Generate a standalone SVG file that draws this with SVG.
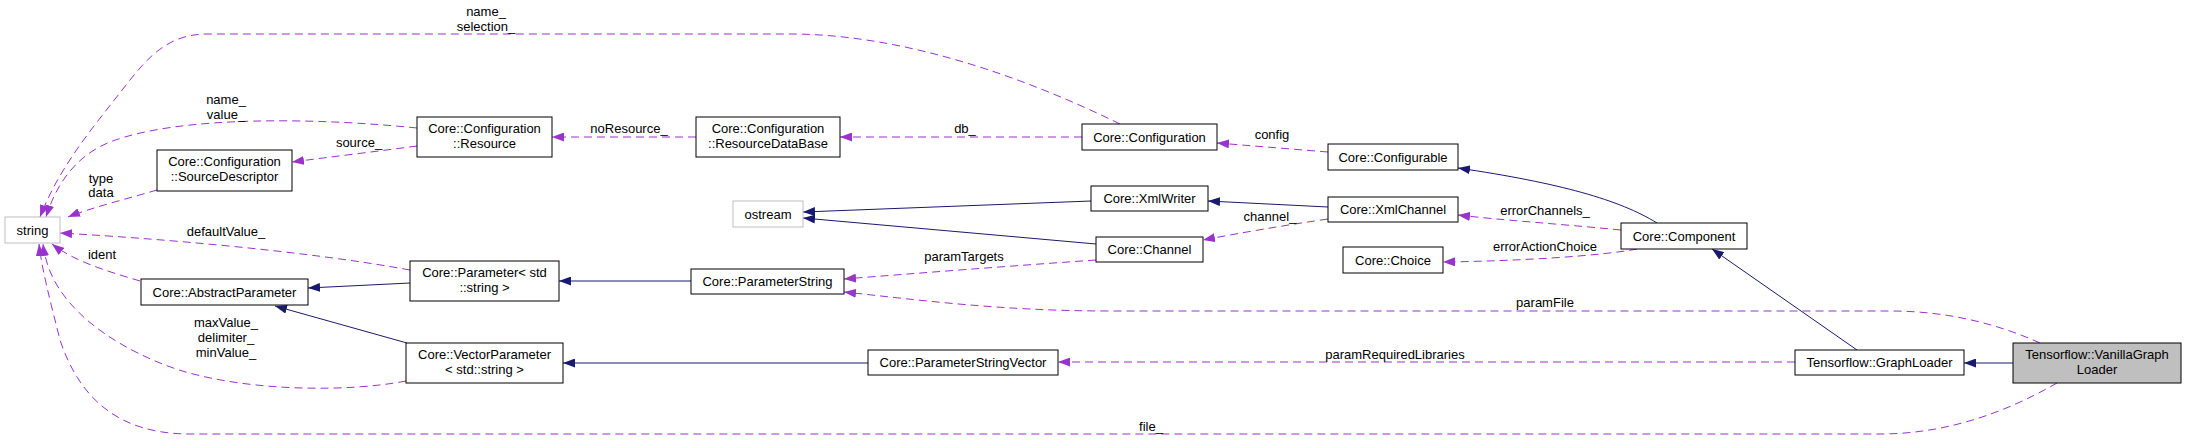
<svg xmlns="http://www.w3.org/2000/svg" width="2187" height="440" viewBox="0 0 2187 440">
<style>
text{font-family:"Liberation Sans",Arial,sans-serif;font-size:13px;fill:#000}
.n rect{fill:#fff;stroke:#000;stroke-width:1}
.ext rect{fill:#fff;stroke:#bfbfbf;stroke-width:1}
.sel rect{fill:#bfbfbf;stroke:#000;stroke-width:1}
.n text,.ext text,.sel text,.lbl{text-anchor:middle}
.u{fill:none;stroke:#9a32cd;stroke-width:1;stroke-dasharray:8,5;marker-end:url(#ap)}
.i{fill:none;stroke:#191970;stroke-width:1;marker-end:url(#an)}
</style>
<defs>
<marker id="ap" viewBox="0 0 12 9" refX="12" refY="4.5" markerWidth="12" markerHeight="9" markerUnits="userSpaceOnUse" orient="auto"><path d="M0,0 L12,4.5 L0,9 z" fill="#9a32cd"/></marker>
<marker id="an" viewBox="0 0 12 9" refX="12" refY="4.5" markerWidth="12" markerHeight="9" markerUnits="userSpaceOnUse" orient="auto"><path d="M0,0 L12,4.5 L0,9 z" fill="#191970"/></marker>
</defs>
<rect width="2187" height="440" fill="#fff"/>
<g id="connectors">
<path class="u" d="M1120,124 C1020,75 900,34 790,34 L207,34 C170,34 150,55 130,80 C95,125 60,165 40,217"/>
<path class="u" d="M417,128 C320,118 180,115 110,142 C75,156 56,185 46,217"/>
<path class="u" d="M417,146 C380,151 330,157 292,162"/>
<path class="u" d="M157,190 C130,198 90,208 68,217"/>
<path class="u" d="M696,137 L552,137"/>
<path class="u" d="M1082,137 L840,137"/>
<path class="u" d="M1328,152 L1217,143"/>
<path class="i" d="M1657,223 C1620,200 1560,183 1458,168"/>
<path class="i" d="M1328,207 L1208,201"/>
<path class="i" d="M1091,201 L803,212"/>
<path class="i" d="M1096,244 L803,218"/>
<path class="u" d="M1328,219 C1280,226 1240,233 1203,240"/>
<path class="u" d="M1096,260 C1010,266 920,273 844,279"/>
<path class="u" d="M2040,343 C2000,325 1950,311 1890,311 L1110,311 C1000,311 920,300 844,292"/>
<path class="u" d="M1795,362 L1058,362"/>
<path class="u" d="M2057,383 C2010,410 1950,434 1880,434 L190,434 C120,434 80,400 60,340 C50,300 42,270 39,244"/>
<path class="u" d="M406,381 C350,392 250,392 179,370 C120,350 80,320 60,290 C50,275 45,260 43,244"/>
<path class="u" d="M140,281 C110,272 75,262 52,244"/>
<path class="u" d="M410,270 C300,250 150,238 60,233"/>
<path class="i" d="M410,283 L308,288"/>
<path class="i" d="M407,343 L275,306"/>
<path class="i" d="M691,281 L559,281"/>
<path class="i" d="M868,363 L563,363"/>
<path class="i" d="M1857,350 L1712,249"/>
<path class="i" d="M2013,363 L1964,363"/>
<path class="u" d="M1621,230 C1560,224 1500,220 1458,215"/>
<path class="u" d="M1637,249 C1600,256 1520,261 1443,262"/>
<text class="lbl" x="486" y="16">name_</text>
<text class="lbl" x="486" y="31">selection_</text>
<text class="lbl" x="226" y="104">name_</text>
<text class="lbl" x="226" y="119">value_</text>
<text class="lbl" x="359" y="147">source_</text>
<text class="lbl" x="101" y="183">type</text>
<text class="lbl" x="101" y="197">data</text>
<text class="lbl" x="629" y="133">noResource_</text>
<text class="lbl" x="965" y="133">db_</text>
<text class="lbl" x="1272" y="139">config</text>
<text class="lbl" x="1270" y="221">channel_</text>
<text class="lbl" x="964" y="261">paramTargets</text>
<text class="lbl" x="1545" y="215">errorChannels_</text>
<text class="lbl" x="1545" y="251">errorActionChoice</text>
<text class="lbl" x="1545" y="307">paramFile</text>
<text class="lbl" x="1395" y="359">paramRequiredLibraries</text>
<text class="lbl" x="1151" y="431">file_</text>
<text class="lbl" x="226" y="236">defaultValue_</text>
<text class="lbl" x="102" y="259">ident</text>
<text class="lbl" x="226" y="327">maxValue_</text>
<text class="lbl" x="226" y="342">delimiter_</text>
<text class="lbl" x="226" y="357">minValue_</text>
</g>
<g id="node-string" class="ext"><rect x="5" y="217" width="55" height="26"/><text x="32.5" y="234.5">string</text></g>
<g id="node-sourcedescriptor" class="n"><rect x="157" y="150" width="135" height="41"/><text x="224.5" y="166">Core::Configuration</text><text x="224.5" y="180.5">::SourceDescriptor</text></g>
<g id="node-resource" class="n"><rect x="417" y="117" width="135" height="40"/><text x="484.5" y="133">Core::Configuration</text><text x="484.5" y="147.5">::Resource</text></g>
<g id="node-resourcedatabase" class="n"><rect x="696" y="117" width="144" height="40"/><text x="768" y="133">Core::Configuration</text><text x="768" y="147.5">::ResourceDataBase</text></g>
<g id="node-configuration" class="n"><rect x="1082" y="124" width="135" height="26"/><text x="1149.5" y="141.5">Core::Configuration</text></g>
<g id="node-configurable" class="n"><rect x="1328" y="144" width="130" height="26"/><text x="1393" y="161.5">Core::Configurable</text></g>
<g id="node-ostream" class="ext"><rect x="733" y="201" width="70" height="26"/><text x="768" y="218.5">ostream</text></g>
<g id="node-xmlwriter" class="n"><rect x="1091" y="186" width="117" height="25"/><text x="1149.5" y="203">Core::XmlWriter</text></g>
<g id="node-xmlchannel" class="n"><rect x="1328" y="197" width="130" height="25"/><text x="1393" y="214">Core::XmlChannel</text></g>
<g id="node-channel" class="n"><rect x="1096" y="237" width="107" height="25"/><text x="1149.5" y="254">Core::Channel</text></g>
<g id="node-choice" class="n"><rect x="1343" y="247" width="100" height="26"/><text x="1393" y="264.5">Core::Choice</text></g>
<g id="node-component" class="n"><rect x="1621" y="223" width="126" height="26"/><text x="1684" y="240.5">Core::Component</text></g>
<g id="node-abstractparameter" class="n"><rect x="141" y="279" width="167" height="26"/><text x="224.5" y="296.5">Core::AbstractParameter</text></g>
<g id="node-parameter" class="n"><rect x="410" y="261" width="149" height="40"/><text x="484.5" y="277">Core::Parameter&lt; std</text><text x="484.5" y="291.5">::string &gt;</text></g>
<g id="node-vectorparameter" class="n"><rect x="406" y="343" width="157" height="40"/><text x="484.5" y="359">Core::VectorParameter</text><text x="484.5" y="373.5">&lt; std::string &gt;</text></g>
<g id="node-parameterstring" class="n"><rect x="691" y="269" width="153" height="25"/><text x="767.5" y="286">Core::ParameterString</text></g>
<g id="node-parameterstringvector" class="n"><rect x="868" y="350" width="190" height="25"/><text x="963" y="367">Core::ParameterStringVector</text></g>
<g id="node-graphloader" class="n"><rect x="1795" y="350" width="169" height="25"/><text x="1879.5" y="367">Tensorflow::GraphLoader</text></g>
<g id="node-vanillagraphloader" class="sel"><rect x="2013" y="343" width="168" height="40"/><text x="2097" y="359">Tensorflow::VanillaGraph</text><text x="2097" y="373.5">Loader</text></g>
</svg>
